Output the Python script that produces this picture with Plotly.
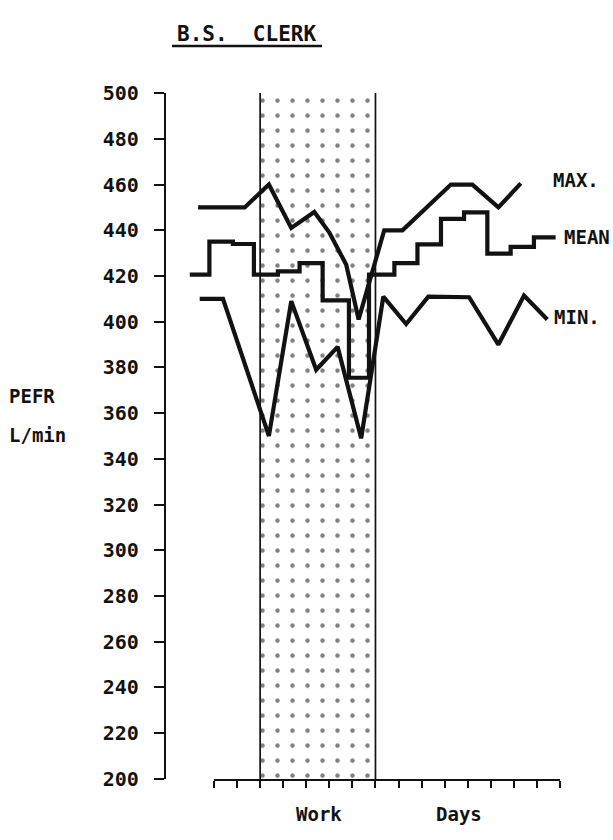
import plotly.graph_objects as go

W, H = 613, 840

# ---------------- data ----------------
TITLE = "B.S.&nbsp;&nbsp;CLERK"
Y_LABEL = ["PEFR", "L/min"]
Y_TICKS = [200, 220, 240, 260, 280, 300, 320, 340, 360, 380, 400, 420, 440, 460, 480, 500]
X_TICKS = list(range(16))          # day tick marks
WORK_START, WORK_END = 2, 7         # shaded work period (tick units)
X_LABELS = ["Work", "Days"]

MAX_X = [-0.69, 1.33, 2.38, 3.35, 4.35, 5.0, 5.73, 6.27, 7.38, 8.17, 10.27, 11.2, 12.33, 13.3]
MAX_Y = [450, 450, 460, 441, 448, 439, 425, 401, 440, 440, 460, 460, 450, 460.5]

MEAN_X = [-1.05, -0.2, 0.82, 1.73, 2.77, 3.71, 4.71, 5.85, 6.72, 7.82, 8.82, 9.84, 10.84, 11.85, 12.86, 13.87, 14.81]
MEAN_Y = [420.6, 435, 434, 420.6, 422, 425.6, 409.3, 375.5, 420.6, 425.6, 433.8, 445, 447.8, 429.8, 432.7, 436.9, 436.9]

MIN_X = [-0.62, 0.39, 2.38, 3.35, 4.43, 5.36, 6.38, 7.34, 8.33, 9.29, 11.06, 12.33, 13.44, 14.45]
MIN_Y = [410, 410, 350, 409, 379, 389, 349, 411, 399, 411, 410.7, 390, 411.5, 401]

SERIES_LABELS = ["MAX.", "MEAN", "MIN."]

# ---------------- layout geometry (pixels) ----------------
X0_PX, X15_PX = 214.0, 560.0        # pixel of first / last day tick
Y_TOP_PX, Y_BOT_PX = 83.5, 789.5    # pixel of 500 / 200
YAXIS_PX = 165.0
INK = "#121212"
FONT = "DejaVu Sans Mono"

unit = (X15_PX - X0_PX) / (X_TICKS[-1] - X_TICKS[0])
xr = [X_TICKS[0] - X0_PX / unit, X_TICKS[-1] + (W - X15_PX) / unit]
ydom = [1 - Y_BOT_PX / H, 1 - Y_TOP_PX / H]

fig = go.Figure()

# shaded work period
fig.add_trace(go.Scatter(
    x=[WORK_START, WORK_START, WORK_END, WORK_END, WORK_START],
    y=[Y_TICKS[0], Y_TICKS[-1], Y_TICKS[-1], Y_TICKS[0], Y_TICKS[0]],
    mode="lines", line=dict(width=0, color=INK), fill="toself",
    fillcolor="white",
    fillpattern=dict(shape=".", size=15, solidity=0.07, fgcolor="black", bgcolor="white"),
    hoverinfo="skip", showlegend=False))
fig.add_trace(go.Scatter(
    x=[WORK_START, WORK_START, None, WORK_END, WORK_END],
    y=[Y_TICKS[0], Y_TICKS[-1], None, Y_TICKS[0], Y_TICKS[-1]],
    mode="lines", line=dict(width=1.7, color=INK), hoverinfo="skip", showlegend=False))

for xs, ys, shape in [(MAX_X, MAX_Y, "linear"), (MEAN_X, MEAN_Y, "hv"), (MIN_X, MIN_Y, "linear")]:
    fig.add_trace(go.Scatter(x=xs, y=ys, mode="lines",
                             line=dict(color=INK, width=4.2, shape=shape),
                             showlegend=False))

# dummy trace to carry the visible day axis
fig.add_trace(go.Scatter(x=[X_TICKS[0], X_TICKS[-1]], y=[Y_TICKS[0], Y_TICKS[0]],
                         xaxis="x2", yaxis="y", mode="lines",
                         line=dict(width=0, color="rgba(0,0,0,0)"),
                         hoverinfo="skip", showlegend=False))

fig.update_layout(
    width=W, height=H, margin=dict(l=0, r=0, t=0, b=0),
    paper_bgcolor="white", plot_bgcolor="rgba(0,0,0,0)",
    font=dict(family=FONT, color=INK, size=19),
    xaxis=dict(domain=[0, 1], range=xr, visible=False, fixedrange=True),
    xaxis2=dict(domain=[X0_PX / W, X15_PX / W], range=[X_TICKS[0], X_TICKS[-1]],
                anchor="y", showline=True, linewidth=2.4, linecolor=INK,
                ticks="outside", ticklen=7, tickwidth=2.2, tickcolor=INK,
                tickvals=X_TICKS, showticklabels=False, showgrid=False, zeroline=False),
    yaxis=dict(domain=ydom, range=[Y_TICKS[0], Y_TICKS[-1]], anchor="free",
               position=YAXIS_PX / W, showline=True, linewidth=2.4, linecolor=INK,
               ticks="outside", ticklen=10, tickwidth=2.2, tickcolor=INK,
               tickvals=Y_TICKS, ticktext=[f"<b>{v}</b>" for v in Y_TICKS],
               tickfont=dict(family=FONT, size=20, color=INK), ticklabelstandoff=11,
               showgrid=False, zeroline=False),
)

def ann(text, px, py, size=19, xanchor="left"):
    fig.add_annotation(text="<b>" + text + "</b>", xref="paper", yref="paper",
                       x=px / W, y=1 - py / H,
                       xanchor=xanchor, yanchor="middle", showarrow=False,
                       font=dict(family=FONT, size=size, color=INK))

ann(TITLE, 247, 23, size=21, xanchor="center")
# underline of the title
fig.add_shape(type="line", xref="paper", yref="paper",
              x0=172 / W, x1=322 / W, y0=1 - 35 / H, y1=1 - 35 / H,
              line=dict(color=INK, width=2.6))
ann(Y_LABEL[0], 7, 395, size=19)
ann(Y_LABEL[1], 7, 435, size=19)
ann(SERIES_LABELS[0], 551, 173)
ann(SERIES_LABELS[1], 562, 232)
ann(SERIES_LABELS[2], 552, 314)
ann(X_LABELS[0], 319, 826, xanchor="center")
ann(X_LABELS[1], 459, 826, xanchor="center")

fig.write_html("out.html", config={"displayModeBar": False},
               post_script="document.body.style.margin='0';document.body.style.overflow='hidden';")
